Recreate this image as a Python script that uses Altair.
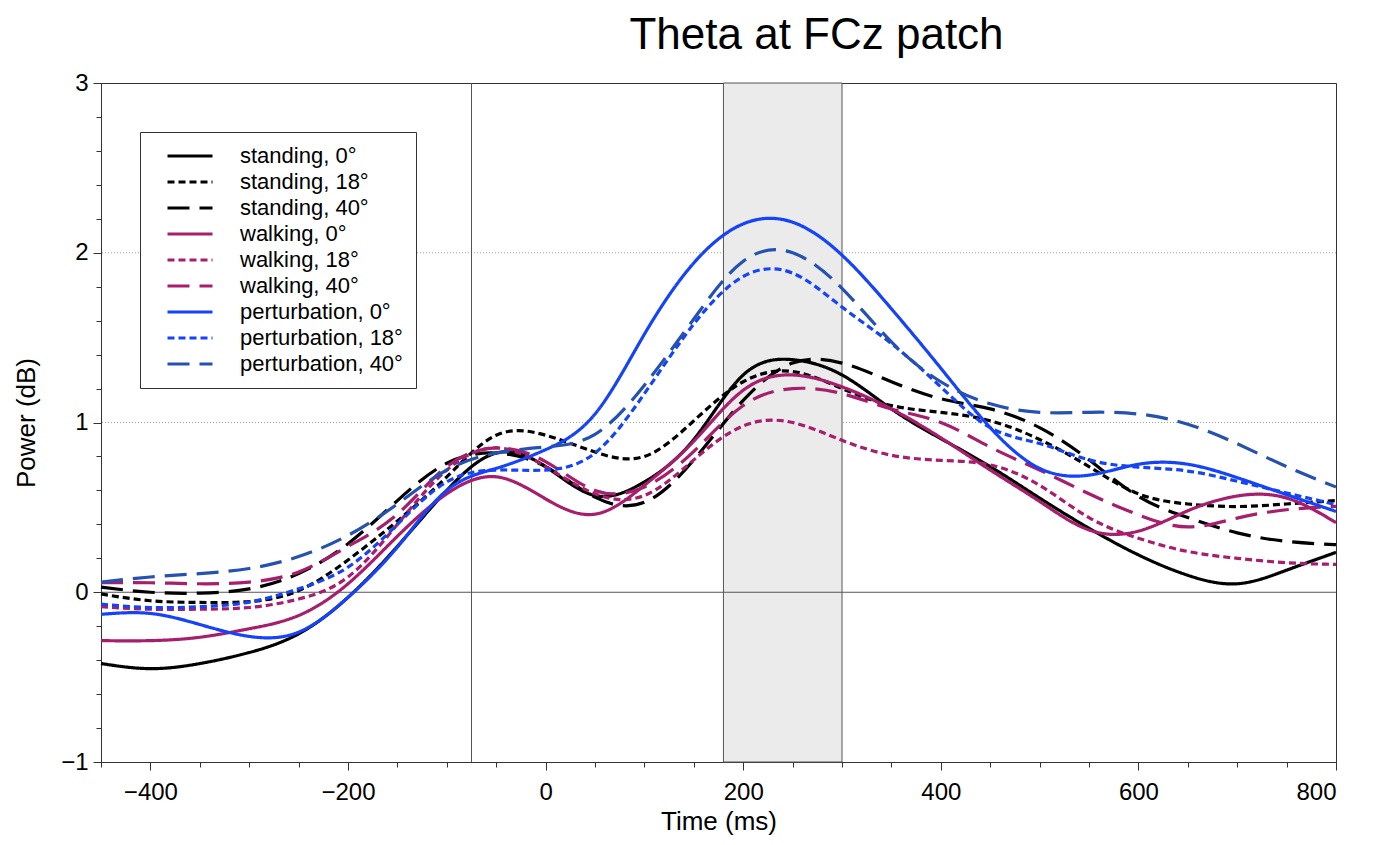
import altair as alt
import pandas as pd

TIME = [-450, -400, -350, -300, -250, -200, -150, -100, -50, 0, 50, 100, 150,
        200, 250, 300, 350, 400, 450, 500, 550, 600, 650, 700, 750, 800]

SERIES = ["standing, 0°", "standing, 18°", "standing, 40°",
          "walking, 0°", "walking, 18°", "walking, 40°",
          "perturbation, 0°", "perturbation, 18°", "perturbation, 40°"]

STANDING_0 = [-0.42, -0.45, -0.42, -0.355, -0.245, -0.03, 0.27, 0.60, 0.82, 0.74, 0.57, 0.65, 0.90,
              1.28, 1.37, 1.28, 1.08, 0.905, 0.74, 0.555, 0.377, 0.22, 0.10, 0.05, 0.13, 0.235]
STANDING_18 = [-0.01, -0.05, -0.06, -0.055, 0.01, 0.19, 0.42, 0.68, 0.925, 0.925, 0.826, 0.80, 1.01,
               1.24, 1.30, 1.20, 1.10, 1.06, 1.01, 0.90, 0.74, 0.58, 0.52, 0.505, 0.52, 0.54]
STANDING_40 = [0.03, 0.0, -0.005, 0.02, 0.11, 0.286, 0.54, 0.76, 0.82, 0.74, 0.56, 0.53, 0.78,
               1.13, 1.35, 1.35, 1.24, 1.14, 1.08, 0.97, 0.78, 0.565, 0.44, 0.35, 0.30, 0.28]
WALKING_0 = [-0.285, -0.285, -0.265, -0.215, -0.137, 0.05, 0.33, 0.58, 0.68, 0.55, 0.46, 0.63, 0.89,
             1.19, 1.28, 1.21, 1.08, 0.91, 0.72, 0.535, 0.367, 0.36, 0.48, 0.567, 0.555, 0.41]
WALKING_18 = [-0.085, -0.10, -0.10, -0.09, -0.04, 0.09, 0.40, 0.72, 0.85, 0.74, 0.58, 0.57, 0.78,
              0.98, 1.00, 0.895, 0.807, 0.777, 0.75, 0.63, 0.44, 0.318, 0.24, 0.20, 0.174, 0.164]
WALKING_40 = [0.056, 0.056, 0.05, 0.06, 0.12, 0.27, 0.46, 0.74, 0.85, 0.77, 0.60, 0.62, 0.83,
              1.10, 1.20, 1.17, 1.08, 1.00, 0.855, 0.72, 0.58, 0.456, 0.385, 0.437, 0.486, 0.506]
PERT_0 = [-0.13, -0.125, -0.19, -0.26, -0.235, -0.03, 0.266, 0.60, 0.73, 0.84, 1.05, 1.52, 1.94,
          2.17, 2.18, 1.986, 1.67, 1.32, 0.97, 0.73, 0.69, 0.754, 0.754, 0.675, 0.575, 0.476]
PERT_18 = [-0.07, -0.09, -0.085, -0.058, 0.02, 0.148, 0.40, 0.65, 0.72, 0.72, 0.82, 1.17, 1.58,
           1.86, 1.88, 1.68, 1.465, 1.21, 0.97, 0.876, 0.78, 0.737, 0.714, 0.654, 0.585, 0.516]
PERT_40 = [0.06, 0.09, 0.11, 0.14, 0.21, 0.335, 0.52, 0.72, 0.82, 0.856, 0.93, 1.22, 1.61,
           1.95, 2.00, 1.79, 1.475, 1.24, 1.11, 1.06, 1.06, 1.05, 0.99, 0.875, 0.74, 0.62]

COLORS = ["#000000", "#000000", "#000000",
          "#A61E6C", "#A61E6C", "#A61E6C",
          "#1443FA", "#1443FA", "#2551B0"]
DASHES = [[1, 0], [7, 4], [22, 10],
          [1, 0], [7, 4], [22, 10],
          [1, 0], [7, 4], [22, 10]]

WINDOW = {"start": [180], "end": [300]}
ONSET = [-75]
ZERO = [0]
GRID_Y = [1, 2]

X_MAJOR = [-400, -200, 0, 200, 400, 600, 800]
X_MINOR = list(range(-450, 801, 50))
Y_MAJOR = [-1, 0, 1, 2, 3]
Y_MINOR = [round(-1 + 0.2 * i, 1) for i in range(21)]

FONT = "Liberation Sans"

rows = []
for name, vals in zip(SERIES, [STANDING_0, STANDING_18, STANDING_40, WALKING_0, WALKING_18,
                               WALKING_40, PERT_0, PERT_18, PERT_40]):
    for t, v in zip(TIME, vals):
        rows.append({"time": t, "power": v, "series": name})
df = pd.DataFrame(rows)

xs = alt.Scale(domain=[-450, 800], nice=False, zero=False)
ys = alt.Scale(domain=[-1, 3], nice=False, zero=False)

frame_axis = dict(domain=True, ticks=False, labels=False, grid=False, title=None,
                  domainColor="#333333", domainWidth=1)

grid = alt.Chart(pd.DataFrame({"g": GRID_Y})).mark_rule(
    color="#888888", strokeWidth=0.8, strokeDash=[1, 2]
).encode(y=alt.Y("g:Q", scale=ys, axis=alt.Axis(orient="right", **frame_axis)))

shade = alt.Chart(pd.DataFrame(WINDOW)).mark_rect(
    fill="#ebebeb", stroke="#555555", strokeWidth=1
).encode(
    x=alt.X("start:Q", scale=xs, axis=alt.Axis(orient="top", **frame_axis)),
    x2="end:Q",
)

onset = alt.Chart(pd.DataFrame({"t": ONSET})).mark_rule(color="#555555", strokeWidth=1).encode(
    x=alt.X("t:Q", scale=xs, axis=alt.Axis(values=X_MINOR, tickSize=5, labels=False, domain=False,
                                          grid=False, title=None, orient="bottom",
                                          tickColor="#333333")),
)

zero = alt.Chart(pd.DataFrame({"v": ZERO})).mark_rule(color="#555555", strokeWidth=1).encode(
    y=alt.Y("v:Q", scale=ys, axis=alt.Axis(values=Y_MINOR, tickSize=5, labels=False, domain=False,
                                          grid=False, title=None, orient="left",
                                          tickColor="#333333")),
)

legend_kw = dict(orient="none", legendX=39, legendY=49, title=None,
                 symbolType="M-3,0H3", symbolSize=225, symbolStrokeWidth=3,
                 symbolFillColor="transparent",
                 labelFontSize=22, labelFont=FONT, labelColor="black",
                 padding=13, rowPadding=4, symbolOffset=26, labelOffset=39,
                 strokeColor="#333333", fillColor="white", labelLimit=400)

lines = alt.Chart(df).mark_line(strokeWidth=3.2, interpolate="natural").encode(
    x=alt.X("time:Q", scale=xs,
            axis=alt.Axis(values=X_MAJOR, tickSize=8, title="Time (ms)", orient="bottom",
                          labelFontSize=24, titleFontSize=26, labelPadding=10, titlePadding=4,
                          grid=False, labelFont=FONT, titleFont=FONT, titleFontWeight="normal",
                          labelColor="black", titleColor="black", tickColor="#333333",
                          domainColor="#333333", format="d")),
    y=alt.Y("power:Q", scale=ys,
            axis=alt.Axis(values=Y_MAJOR, tickSize=8, title="Power (dB)", orient="left",
                          labelFontSize=24, titleFontSize=26, labelPadding=5, titlePadding=21,
                          grid=False, labelFont=FONT, titleFont=FONT, titleFontWeight="normal",
                          labelColor="black", titleColor="black", tickColor="#333333",
                          domainColor="#333333", format="d")),
    color=alt.Color("series:N", scale=alt.Scale(domain=SERIES, range=COLORS),
                    legend=alt.Legend(**legend_kw)),
    strokeDash=alt.StrokeDash("series:N", scale=alt.Scale(domain=SERIES, range=DASHES),
                              legend=alt.Legend(**legend_kw)),
    order=alt.Order("series:N", sort="descending"),
)

chart = alt.layer(grid, shade, onset, zero, lines).resolve_axis(
    x="independent", y="independent"
).properties(
    width=1235,
    height=679,
    autosize=alt.AutoSizeParams(type="none"),
    padding={"left": 93, "top": 75, "right": 32, "bottom": 75},
    title=alt.TitleParams("Theta at FCz patch", fontSize=44, font=FONT, fontWeight="normal",
                          anchor="middle", dx=98, offset=13, color="black"),
).configure_view(stroke="#333333", strokeWidth=1).configure(background="white")

chart.save("out.html", embed_options={"renderer": "svg", "actions": False})
